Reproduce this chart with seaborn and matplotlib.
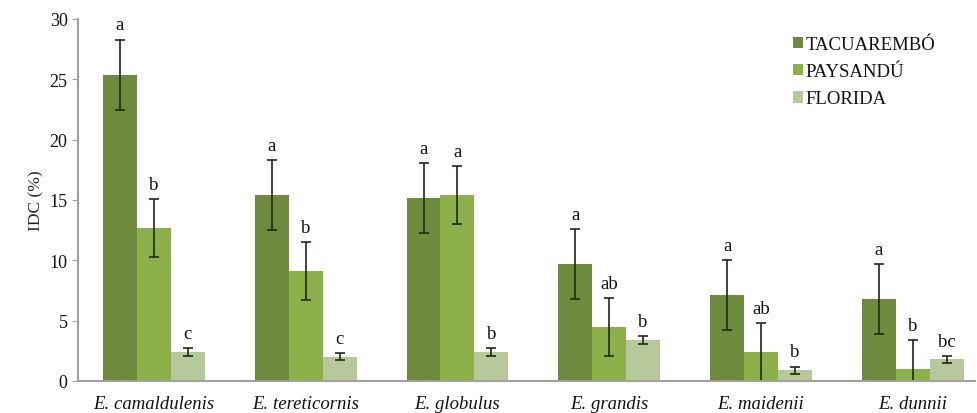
import matplotlib
matplotlib.use('Agg')
import matplotlib.pyplot as plt
import seaborn as sns
import pandas as pd
import numpy as np

# Data
species = ['E. camaldulenis', 'E. tereticornis', 'E. globulus',
           'E. grandis', 'E. maidenii', 'E. dunnii']
sites = ['TACUAREMBÓ', 'PAYSANDÚ', 'FLORIDA']

tacuarembo = [25.4, 15.4, 15.2, 9.7, 7.1, 6.8]
paysandu = [12.7, 9.1, 15.4, 4.5, 2.4, 1.0]
florida = [2.4, 2.0, 2.4, 3.4, 0.9, 1.8]

tacuarembo_err = [2.9, 2.9, 2.9, 2.9, 2.9, 2.9]
paysandu_err = [2.4, 2.4, 2.4, 2.4, 2.4, 2.4]
florida_err = [0.3, 0.3, 0.3, 0.3, 0.3, 0.3]

tacuarembo_lbl = ['a', 'a', 'a', 'a', 'a', 'a']
paysandu_lbl = ['b', 'b', 'a', 'ab', 'ab', 'b']
florida_lbl = ['c', 'c', 'b', 'b', 'b', 'bc']

colors = ['#6e8b3d', '#8cb04a', '#b7c99b']

df = pd.DataFrame({
    'species': species * 3,
    'site': [s for s in sites for _ in species],
    'idc': tacuarembo + paysandu + florida,
    'err': tacuarembo_err + paysandu_err + florida_err,
    'lbl': tacuarembo_lbl + paysandu_lbl + florida_lbl,
})

sns.set_style('white')
plt.rcParams['font.family'] = ['Liberation Serif', 'DejaVu Serif']
plt.rcParams['text.color'] = '#111111'

fig = plt.figure(figsize=(9.77, 4.14), dpi=100)
ax = fig.add_axes([78 / 977, 32 / 414, 897 / 977, 362 / 414])

sns.barplot(data=df, x='species', y='idc', hue='site', hue_order=sites,
            order=species, palette=colors, width=0.67, errorbar=None,
            saturation=1, linewidth=0, ax=ax)

# error bars and significance letters on top of each bar
bars = ax.patches[:len(df)]
for bar, (_, row) in zip(bars, df.iterrows()):
    xc = bar.get_x() + bar.get_width() / 2
    h = bar.get_height()
    ax.errorbar(xc, h, yerr=row['err'], color='#1e2a12', capsize=3.5,
                elinewidth=1.2, capthick=1.2)
    ax.text(xc, h + row['err'] + 0.5, row['lbl'], ha='center', va='bottom',
            fontsize=13.5)

ax.set_ylim(0, 30)
ax.set_xlim(-0.5, 5.41)
ax.set_yticks(range(0, 31, 5))
ax.set_ylabel('IDC (%)', fontsize=12.5)
ax.set_xlabel('')

for lab in ax.get_xticklabels():
    lab.set_fontstyle('italic')
    lab.set_fontsize(13.5)
ax.tick_params(axis='y', labelsize=13, length=4, color='#a0a0a0',
               direction='out', left=True, labelcolor='#111111')
ax.tick_params(axis='x', length=0, pad=10, labelcolor='#111111')

sns.despine(ax=ax, top=True, right=True)
for side in ['left', 'bottom']:
    ax.spines[side].set_color('#a0a0a0')
    ax.spines[side].set_linewidth(1.5)

leg = ax.legend(loc='upper right', bbox_to_anchor=(0.975, 1.0), frameon=False,
                fontsize=13.5, handlelength=0.55, handleheight=0.55,
                handletextpad=0.15, labelspacing=0.55)

fig.savefig('out.png', dpi=100)
